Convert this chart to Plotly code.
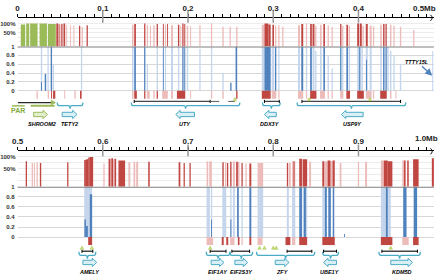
import plotly.graph_objects as go

# ------------------------------------------------------------------
# DATA  (genomic coordinates in kb)
# ------------------------------------------------------------------
top_tick_labels = ["0", "0.1", "0.2", "0.3", "0.4"]
bot_tick_labels = ["0.5", "0.6", "0.7", "0.8", "0.9"]

# pseudo-autosomal region (green conservation)
par_start = [3.8, 10.2, 14.8, 25.8, 35.6]
par_end = [9.0, 13.7, 23.5, 34.5, 44.9]
par_cons = [98, 100, 100, 100, 99]

# top panel red conservation peaks (%), level d = dark, l = light
top_red_start = [45.5, 48.1, 49.5, 51.3, 53.9, 57.1, 61.7, 65.5, 72.1, 75.2, 81.0,
                 134.3, 136.9, 148.5, 151.6, 155.4, 159.3, 163.2, 170.5, 172.9, 175.5, 180.1, 188.2, 191.0,
                 193.3, 195.6, 198.6, 202.5, 213.3, 226.9, 240.3, 248.8, 256.5, 286.6, 289.7, 294.3, 299.0,
                 302.1, 305.9, 310.5,
                 329.1, 332.9, 338.3, 343.3, 346.1, 349.1, 354.9, 358.8, 363.8, 368.4, 378.5, 380.8, 385.8,
                 388.4, 398.5, 401.6, 404.6, 408.6, 413.2, 417.0, 425.5, 428.9, 431.7, 437.0, 441.0, 448.6, 464.1]
top_red_end = [47.5, 49.3, 50.7, 52.8, 55.9, 58.2, 62.8, 66.7, 73.6, 76.7, 82.5,
               136.1, 138.9, 150.0, 153.1, 156.6, 160.9, 164.7, 171.6, 174.3, 176.6, 182.4, 189.8, 192.1,
               194.8, 196.8, 200.2, 203.7, 214.8, 228.4, 241.9, 250.3, 258.1, 289.7, 294.3, 297.0, 300.9,
               303.6, 307.4, 312.0,
               331.4, 335.2, 339.8, 345.3, 348.4, 350.7, 356.8, 360.7, 365.3, 369.9, 380.0, 382.3, 387.7,
               390.1, 400.8, 403.9, 406.3, 410.9, 415.5, 418.5, 427.4, 430.6, 433.2, 438.7, 442.5, 450.2, 465.6]
top_red_cons = [100, 99, 97, 99, 100, 97, 96, 96, 95, 93, 96,
                97, 99, 100, 97, 95, 96, 99, 99, 97, 99, 96, 97, 95, 100, 99, 95, 94, 96, 100, 93, 93, 93,
                97, 100, 98, 97, 95, 96, 93,
                96, 99, 100, 99, 99, 95, 97, 99, 96, 93, 99, 95, 97, 95, 100, 100, 95, 99, 95, 94, 97, 99,
                99, 97, 95, 93, 86]
top_red_level = ["d", "d", "l", "d", "d", "l", "l", "l", "d", "l", "d",
                 "l", "d", "d", "l", "l", "l", "d", "d", "l", "d", "l", "d", "l", "d", "d", "l", "l", "l",
                 "l", "l", "l", "l", "l", "d", "d", "d", "l", "l", "l",
                 "l", "d", "l", "d", "d", "l", "l", "d", "l", "l", "d", "l", "d", "l", "d", "d", "l", "d",
                 "l", "l", "l", "d", "d", "l", "l", "l", "l"]

# top panel blue track (0-1)
top_blue_start = [27.3, 27.5, 31.9, 35.1, 38.9, 41.2, 74.4,
                  134.3, 136.9, 148.5, 151.6, 163.2, 170.5, 172.9, 180.1, 188.2, 193.3, 195.6, 198.6, 213.3,
                  226.9, 240.3, 249.5, 255.8,
                  286.6, 289.7, 298.2, 302.1, 305.9,
                  329.1, 332.9, 338.3, 343.3, 346.1, 349.1, 354.9, 358.8, 363.8, 368.4,
                  378.5, 380.8, 385.8, 388.4, 398.5, 400.8, 403.4, 408.6, 408.9, 413.2,
                  425.5, 428.9, 431.7, 433.8, 437.0, 441.0, 448.6, 486.5]
top_blue_end = [28.9, 28.7, 33.6, 36.6, 40.5, 42.8, 75.9,
                136.1, 138.9, 150.0, 153.1, 164.7, 171.6, 174.3, 182.4, 189.8, 194.8, 196.8, 200.2, 214.8,
                228.4, 241.9, 251.1, 257.7,
                289.7, 297.0, 301.3, 303.6, 307.4,
                331.4, 335.2, 339.8, 345.3, 348.4, 350.7, 356.8, 360.7, 365.3, 369.9,
                380.0, 382.3, 387.7, 390.1, 400.8, 402.3, 405.1, 410.9, 410.0, 415.5,
                427.4, 430.6, 433.2, 435.5, 438.7, 442.5, 450.2, 487.7]
top_blue_val = [1, 0.2, 0.38, 1, 1, 0.6, 1,
                1, 1, 1, 0.6, 1, 1, 1, 1, 1, 1, 1, 1, 0.95, 1, 0.4, 0.18, 1,
                1, 1, 1, 1, 1,
                1, 1, 1, 1, 1, 0.9, 1, 1, 0.8, 0.5,
                1, 1, 1, 1, 1, 1, 1, 1, 0.7, 1,
                1, 1, 1, 1, 0.9, 0.8, 0.6, 0.9]
top_blue_level = ["l", "d", "d", "l", "d", "l", "l",
                  "l", "d", "d", "l", "l", "d", "l", "l", "l", "d", "d", "l", "l", "l", "l", "d", "d",
                  "l", "d", "l", "d", "l",
                  "l", "d", "l", "d", "l", "l", "l", "d", "l", "l",
                  "d", "l", "d", "l", "l", "d", "l", "l", "d", "l",
                  "l", "d", "d", "l", "l", "l", "l", "l"]

# top panel exon marks
top_exon_start = [22.3, 35.4, 39.4, 41.7, 54.7, 66.7, 73.3, 134.3, 136.9, 148.5, 151.6, 159.3, 163.2,
                  169.7, 180.1, 187.0, 202.5, 226.9, 240.3, 256.5, 286.6, 298.2, 305.9, 329.1, 338.3,
                  343.3, 354.9, 363.8, 368.4, 378.5, 385.8, 398.5, 408.6, 417.0, 425.5, 437.0, 443.3]
top_exon_end = [23.8, 37.0, 40.5, 44.3, 55.9, 68.3, 75.2, 136.1, 140.0, 150.0, 155.1, 160.9, 164.7,
                176.3, 182.4, 196.8, 203.7, 228.4, 241.9, 258.1, 297.0, 303.6, 307.4, 335.2, 339.8,
                350.7, 360.7, 365.3, 369.9, 382.3, 390.1, 406.3, 415.5, 418.5, 433.2, 438.7, 444.5]
top_exon_level = ["l", "l", "d", "d", "l", "l", "d", "l", "d", "d", "l", "l", "d",
                  "l", "l", "d", "l", "l", "l", "d", "d", "l", "l", "l", "l",
                  "d", "l", "l", "l", "l", "d", "d", "l", "l", "d", "l", "l"]

# bottom panel red conservation peaks
bot_red_start = [509.6, 516.6, 519.2, 522.3, 526.2, 558.2, 578.2, 580.2, 582.9, 584.8, 600.7, 606.8,
                 610.0, 612.0, 613.8, 618.4, 630.0, 636.1, 639.2, 653.3, 689.0, 694.8, 701.7, 721.8,
                 724.9, 740.3, 743.4, 745.7, 749.5, 752.7, 756.5, 758.5, 762.7, 767.4, 772.0, 781.6,
                 816.0, 818.3, 822.1, 823.8, 830.5, 834.5, 842.1, 857.6, 860.6, 863.8, 867.2, 869.6,
                 878.0, 899.3, 907.8, 926.3, 929.7, 934.4, 951.4, 953.5, 957.2, 964.1, 986.1]
bot_red_end = [511.1, 518.1, 520.4, 523.8, 527.8, 559.7, 580.2, 582.9, 584.8, 588.7, 602.2, 609.1,
               612.0, 613.8, 615.7, 626.2, 632.3, 638.1, 641.5, 655.1, 691.0, 696.3, 703.2, 723.7,
               728.0, 741.9, 744.9, 747.2, 751.1, 755.0, 758.5, 760.4, 764.2, 768.9, 774.3, 788.2,
               817.5, 820.6, 825.9, 825.0, 833.7, 839.8, 844.4, 860.0, 863.8, 867.2, 869.6, 872.2,
               880.0, 900.8, 910.1, 929.7, 934.4, 939.8, 955.2, 955.2, 959.0, 970.6, 991.9]
bot_red_cons = [93, 90, 90, 91, 90, 91, 95, 96, 99, 100, 89, 97,
                98, 96, 97, 94, 91, 92, 92, 92, 91, 90, 90, 93,
                93, 91, 91, 90, 92, 93, 92, 92, 90, 89, 89, 90,
                90, 90, 93, 93, 97, 96, 92, 93, 93, 94, 93, 94,
                90, 92, 92, 94, 94, 93, 94, 94, 94, 96, 98]
bot_red_level = ["d", "l", "l", "l", "d", "d", "d", "d", "d", "d", "l", "d",
                 "d", "l", "d", "d", "l", "l", "l", "d", "d", "d", "d", "l",
                 "l", "d", "l", "d", "d", "l", "d", "l", "d", "l", "d", "l",
                 "d", "l", "l", "d", "d", "d", "l", "d", "l", "d", "l", "d",
                 "l", "l", "l", "l", "d", "d", "l", "d", "d", "d", "d"]

# bottom panel blue track
bot_blue_start = [578.2, 578.5, 580.2, 584.8, 721.8, 726.9, 727.1, 740.3, 749.5, 749.7, 752.7, 757.6,
                  762.7, 772.0, 781.6, 816.0, 822.1, 830.5, 834.5, 836.0, 857.6, 860.6, 864.6, 869.2,
                  870.1, 883.1, 926.3, 932.1, 934.4, 952.5, 964.8]
bot_blue_end = [587.5, 580.2, 582.5, 587.5, 725.7, 728.4, 728.0, 744.9, 751.1, 750.9, 755.0, 759.6,
                764.2, 774.3, 788.2, 818.3, 825.9, 833.7, 839.8, 838.3, 860.6, 862.9, 867.6, 872.2,
                871.3, 884.0, 932.1, 934.4, 937.9, 956.4, 968.8]
bot_blue_val = [1, 0.35, 0.22, 0.85, 1, 1, 0.35, 1, 1, 0.35, 1, 1,
                1, 1, 1, 1, 1, 1, 1, 1, 1, 1, 1, 1,
                1, 0.06, 1, 1, 1, 1, 1]
bot_blue_level = ["l", "d", "d", "d", "l", "l", "d", "l", "l", "d", "l", "d",
                  "l", "d", "l", "l", "l", "d", "l", "d", "l", "d", "d", "l",
                  "d", "d", "l", "d", "l", "d", "d"]

# bottom panel exon marks
bot_exon_start = [582.9, 721.8, 739.6, 744.9, 749.5, 758.5, 762.7, 772.0, 781.6, 814.4, 822.1, 830.5,
                  857.6, 926.3, 951.4, 964.1]
bot_exon_end = [587.5, 729.5, 741.9, 747.2, 754.6, 760.4, 764.2, 774.3, 787.4, 820.1, 825.9, 839.8,
                872.2, 939.8, 959.0, 970.6]
bot_exon_level = ["d", "l", "d", "d", "l", "d", "l", "d", "l", "d", "l", "d", "d", "d", "l", "d"]

# genes
gene_name = ["TETY2", "UTY", "DDX3Y", "USP9Y", "AMELY", "EIF1AY", "EIF2S3Y", "ZFY", "UBE1Y", "KDM5D"]
gene_panel = [0, 0, 0, 0, 1, 1, 1, 1, 1, 1]
gene_brace_start = [46.6, 133.5, 287.4, 328.0, 572.1, 721.4, 749.2, 780.4, 858.0, 924.0]
gene_brace_end = [76.7, 260.8, 308.2, 455.5, 591.8, 749.2, 775.8, 848.7, 876.5, 972.6]
gene_span_start = [None, 136.9, 289.7, 333.7, 575.6, 726.0, 751.5, 816.3, 859.1, 927.5]
gene_span_end = [None, 226.0, 307.1, 449.4, 588.3, 744.6, 772.3, 845.3, 874.2, 969.2]
gene_arrow_start = [52.4, 185.6, 289.7, 380.0, 576.7, 727.1, 755.0, 802.4, 859.1, 937.9]
gene_arrow_end = [69.8, 207.6, 303.6, 405.5, 592.9, 742.2, 770.0, 818.6, 874.2, 963.4]
gene_strand = ["+", "-", "-", "-", "+", "+", "+", "+", "-", "+"]
uty_ext_start, uty_ext_end = 226.0, 255.0   # dashed (uncertain) extent of UTY

# green triangle markers
top_marker_pos = [255.0, 342.1, 413.6]
bot_marker_pos = [575.6, 587.2, 726.0, 783.9, 789.7, 800.1, 803.6, 937.9]

# PAR / SHROOM2
par_line = (0.3, 43.5)
shroom_span = (15.4, 43.5)
shroom_arrow = (18.9, 35.1)

# ------------------------------------------------------------------
W, H = 440, 274


def py(p):
    return 1 - p / H


RED_D = "rgb(192,70,66)"
RED_L = "rgb(236,188,186)"
BLUE_D = "rgb(79,129,189)"
BLUE_L = "rgb(196,213,236)"
GREEN = "rgb(155,187,89)"
GREEN_F = "rgb(226,238,206)"
AQUA = "rgb(75,172,198)"
AQUA_F = "rgb(218,238,245)"

fig = go.Figure()


def add_bars(starts, ends, vals, levels, base, xa, ya, dark, light):
    for lv, col in (("l", light), ("d", dark)):
        idx = [i for i, l in enumerate(levels) if l == lv]
        if not idx:
            continue
        fig.add_trace(go.Bar(
            x=[(starts[i] + ends[i]) / 2000 for i in idx],
            width=[max(ends[i] - starts[i], 1.1) / 1000 for i in idx],
            y=[vals[i] - base for i in idx], base=base,
            marker=dict(color=col, line=dict(width=0)),
            xaxis=xa, yaxis=ya, showlegend=False, hoverinfo="skip"))


# green PAR
add_bars(par_start, par_end, par_cons, ["d"] * len(par_start), 50, "x", "y", GREEN, GREEN)
add_bars(top_red_start, top_red_end, top_red_cons, top_red_level, 50, "x", "y", RED_D, RED_L)
add_bars(top_blue_start, top_blue_end, top_blue_val, top_blue_level, 0, "x", "y2", BLUE_D, BLUE_L)
add_bars(top_exon_start, top_exon_end, [0] * len(top_exon_start), top_exon_level, -0.18, "x", "y2",
         RED_D, RED_L)
add_bars(bot_red_start, bot_red_end, bot_red_cons, bot_red_level, 50, "x2", "y3", RED_D, RED_L)
add_bars(bot_blue_start, bot_blue_end, bot_blue_val, bot_blue_level, 0, "x2", "y4", BLUE_D, BLUE_L)
add_bars(bot_exon_start, bot_exon_end, [0] * len(bot_exon_start), bot_exon_level, -0.16, "x2", "y4",
         RED_D, RED_L)

xd = [11.7 / W, 433.8 / W]
tickfont = dict(size=8, color="#222", family="Liberation Sans", weight="bold")
yfont = dict(size=6, color="#333", family="Liberation Sans", weight="bold")


def xaxis(rng, anchor, labels, start):
    vals = [round(start + i / 100, 2) for i in range(49)]
    text = []
    for i in range(49):
        text.append(labels[i // 10] if i % 10 == 0 else "")
    return dict(domain=xd, range=rng, anchor=anchor, side="top", showline=True, linecolor="black",
                linewidth=1, ticks="outside", ticklen=3, tickwidth=1, tickcolor="black",
                tickvals=vals, ticktext=text, tickfont=tickfont, showgrid=False, zeroline=False,
                fixedrange=True)


def red_axis(dom, rng, anchor):
    return dict(domain=dom, range=rng, anchor=anchor, tickvals=[60, 70, 80, 90, 100],
                ticktext=["", "", "50%", "", "100%"], showgrid=True, gridcolor="rgb(236,236,236)",
                gridwidth=1, zeroline=False, showline=False, ticks="", tickfont=yfont, ticklabelstandoff=1,
                fixedrange=True)


def blue_axis(dom, rng, anchor):
    return dict(domain=dom, range=rng, anchor=anchor, tickvals=[0, 0.2, 0.4, 0.6, 0.8, 1],
                ticktext=["0", "0.2", "0.4", "0.6", "0.8", "1"], showgrid=True,
                gridcolor="rgb(216,216,216)", gridwidth=1, zeroline=False, showline=False, ticks="",
                tickfont=yfont, ticklabelstandoff=2, fixedrange=True)


fig.update_layout(
    width=W, height=H, margin=dict(l=0, r=0, t=0, b=0), autosize=False,
    paper_bgcolor="white", plot_bgcolor="white", barmode="overlay", showlegend=False,
    xaxis=xaxis([0, 0.4885], "y", top_tick_labels, 0.0),
    xaxis2=xaxis([0.5, 0.9885], "y3", bot_tick_labels, 0.5),
    yaxis=red_axis([py(44), py(15)], [50, 112.2], "x"),
    yaxis2=blue_axis([py(97), py(44)], [-0.186, 1], "x"),
    yaxis3=red_axis([py(185.7), py(150)], [50, 109.5], "x2"),
    yaxis4=blue_axis([py(245), py(185.7)], [-0.163, 1], "x2"),
)

shapes = []
annos = []

# thick baselines between red and blue tracks
for xr, yr in (("x domain", "y2"), ("x2 domain", "y4")):
    shapes.append(dict(type="line", xref=xr, yref=yr, x0=0, x1=1, y0=1, y1=1,
                       line=dict(color="rgb(128,128,128)", width=2)))

# major gray ticks and axis end arrows
for xr, start, yaxis_px, xmax in (("x", 0.0, 15, 0.4885), ("x2", 0.5, 150, 0.9885)):
    for k in range(1, 5):
        v = start + k / 10
        shapes.append(dict(type="line", xref=xr, yref="paper", x0=v, x1=v,
                           y0=py(yaxis_px - 7), y1=py(yaxis_px + 5),
                           line=dict(color="rgb(150,150,150)", width=1.5)))
    d = 0.004
    shapes.append(dict(type="path", xref=xr, yref="paper",
                       path=f"M{xmax - d},{py(yaxis_px - 3)} Q{xmax},{py(yaxis_px)} {xmax - d},{py(yaxis_px + 3)}",
                       line=dict(color="black", width=1)))

annos.append(dict(x=438 / W, y=py(5.5), xref="paper", yref="paper", text="0.5Mb", showarrow=False,
                  xanchor="right", yanchor="middle", font=tickfont))
annos.append(dict(x=439.5 / W, y=py(137), xref="paper", yref="paper", text="1.0Mb", showarrow=False,
                  xanchor="right", yanchor="middle", font=tickfont))

LAB = dict(family="Liberation Sans", size=5.5, color="black", style="italic", weight="bold")
POS = [dict(line=99.5, btop=100.5, bmid=103.8, btip=106.8, tri=97.2, arrow=112.7, label=122),
       dict(line=251, btop=251.5, bmid=255.2, btip=258.5, tri=247.5, arrow=262.3, label=271.5)]


def brace(x0, x1, p, xr):
    r = 0.0022
    xm = (x0 + x1) / 2
    a, b, c = py(p["btop"]), py(p["bmid"]), py(p["btip"])
    path = (f"M{x0},{a} Q{x0},{b} {x0 + r},{b} L{xm - r},{b} Q{xm},{b} {xm},{c} "
            f"Q{xm},{b} {xm + r},{b} L{x1 - r},{b} Q{x1},{b} {x1},{a}")
    return dict(type="path", xref=xr, yref="paper", path=path, line=dict(color=AQUA, width=1.3))


def block_arrow(x0, x1, ypx, strand, xr, fill, edge):
    h1, h2, L = 2.2 / H, 4.2 / H, 0.0052
    yc = py(ypx)
    if strand == "+":
        pts = [(x0, yc + h1), (x1 - L, yc + h1), (x1 - L, yc + h2), (x1, yc), (x1 - L, yc - h2),
               (x1 - L, yc - h1), (x0, yc - h1)]
    else:
        pts = [(x1, yc + h1), (x0 + L, yc + h1), (x0 + L, yc + h2), (x0, yc), (x0 + L, yc - h2),
               (x0 + L, yc - h1), (x1, yc - h1)]
    path = "M" + " L".join(f"{x},{y}" for x, y in pts) + " Z"
    return dict(type="path", xref=xr, yref="paper", path=path, fillcolor=fill,
                line=dict(color=edge, width=1))


def triangle(x, ypx, xr):
    w = 0.0021
    path = f"M{x - w},{py(ypx + 1.6)} L{x + w},{py(ypx + 1.6)} L{x},{py(ypx - 1.8)} Z"
    return dict(type="path", xref=xr, yref="paper", path=path, fillcolor="rgb(200,220,120)",
                line=dict(color="rgb(170,200,90)", width=0.5))


for i, name in enumerate(gene_name):
    p = POS[gene_panel[i]]
    xr = "x" if gene_panel[i] == 0 else "x2"
    b0, b1 = gene_brace_start[i] / 1000, gene_brace_end[i] / 1000
    shapes.append(brace(b0, b1, p, xr))
    if gene_span_start[i] is not None:
        s0, s1 = gene_span_start[i] / 1000, gene_span_end[i] / 1000
        shapes.append(dict(type="line", xref=xr, yref="paper", x0=s0, x1=s1, y0=py(p["line"]),
                           y1=py(p["line"]), line=dict(color="rgb(70,70,70)", width=1.4)))
        for s in (s0, s1):
            shapes.append(dict(type="line", xref=xr, yref="paper", x0=s, x1=s,
                               y0=py(p["line"] - 1.6), y1=py(p["line"] + 1.6),
                               line=dict(color="black", width=1)))
    a0, a1 = gene_arrow_start[i] / 1000, gene_arrow_end[i] / 1000
    shapes.append(block_arrow(a0, a1, p["arrow"], gene_strand[i], xr, AQUA_F, AQUA))
    annos.append(dict(x=(a0 + a1) / 2, y=py(p["label"]), xref=xr, yref="paper", text=name,
                      showarrow=False, xanchor="center", yanchor="middle", font=LAB))

# UTY uncertain (dashed) extension
shapes.append(dict(type="line", xref="x", yref="paper", x0=uty_ext_start / 1000, x1=uty_ext_end / 1000,
                   y0=py(POS[0]["line"]), y1=py(POS[0]["line"]),
                   line=dict(color="rgb(90,90,90)", width=1, dash="dash")))

for x in top_marker_pos:
    shapes.append(triangle(x / 1000, POS[0]["tri"], "x"))
for x in bot_marker_pos:
    shapes.append(triangle(x / 1000, POS[1]["tri"], "x2"))

# PAR and SHROOM2
shapes.append(dict(type="line", xref="x", yref="paper", x0=par_line[0] / 1000, x1=par_line[1] / 1000,
                   y0=py(100.7), y1=py(100.7), line=dict(color="rgb(40,40,40)", width=1.2)))
shapes.append(dict(type="path", xref="x", yref="paper",
                   path=f"M{par_line[1] / 1000 - 0.004},{py(98.2)} L{par_line[1] / 1000 + 0.001},{py(100.7)} "
                        f"L{par_line[1] / 1000 - 0.004},{py(103.2)} Z",
                   fillcolor=GREEN, line=dict(color=GREEN, width=0.5)))
shapes.append(dict(type="line", xref="x", yref="paper", x0=shroom_span[0] / 1000,
                   x1=shroom_span[1] / 1000, y0=py(104), y1=py(104),
                   line=dict(color=GREEN, width=2)))
shapes.append(dict(type="line", xref="paper", yref="paper", x0=6 / W, x1=19 / W, y0=py(104), y1=py(104),
                   line=dict(color=GREEN, width=1.5)))
shapes.append(block_arrow(shroom_arrow[0] / 1000, shroom_arrow[1] / 1000, 112.7, "+", "x", GREEN_F,
                          GREEN))
annos.append(dict(x=12 / W, y=py(108.5), xref="paper", yref="paper", text="PAR", showarrow=False,
                  xanchor="center", yanchor="middle",
                  font=dict(family="Liberation Sans", size=7, color="rgb(130,170,60)", weight="bold")))
annos.append(dict(x=(shroom_arrow[0] + shroom_arrow[1]) / 2000 + 0.002, y=py(122), xref="x", yref="paper",
                  text="SHROOM2", showarrow=False, xanchor="center", yanchor="middle", font=LAB))

# TTTY15L
annos.append(dict(x=0.4865, y=py(73.5), xref="x", yref="paper", text="TTTY15L", showarrow=True,
                  ax=-15, ay=-14, arrowhead=2, arrowsize=1, arrowwidth=1.4, arrowcolor=BLUE_D,
                  font=LAB))

fig.update_layout(shapes=shapes, annotations=annos)
fig.write_html("out.html", config={"displayModeBar": False, "staticPlot": True},
               post_script="document.body.style.margin='0';document.body.style.padding='0';"
                           "document.body.style.overflow='hidden';")
